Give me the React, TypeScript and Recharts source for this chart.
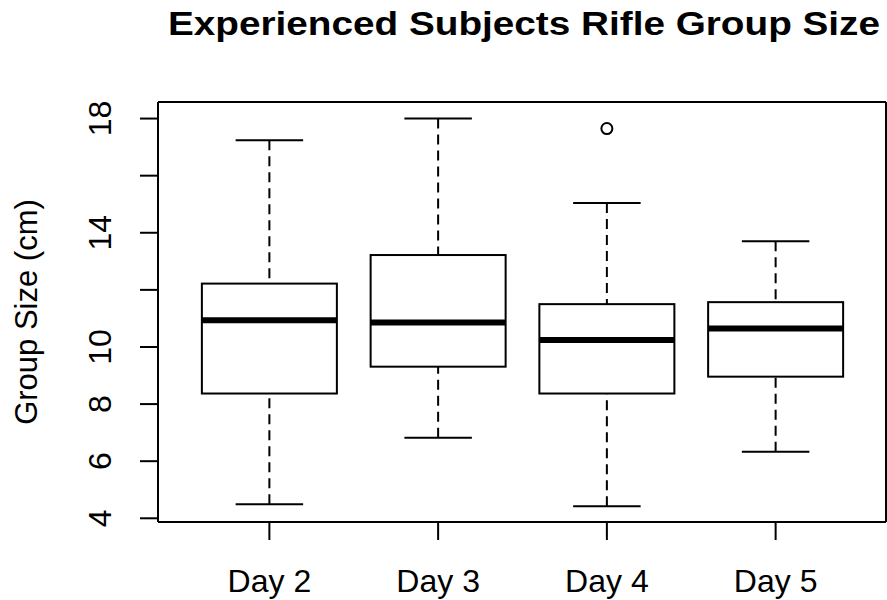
import { ComposedChart, Bar, Line, XAxis, YAxis, CartesianGrid } from "recharts"

const DAYS = ["Day 2", "Day 3", "Day 4", "Day 5"]
const WHISKER_LOW = [4.49, 6.82, 4.42, 6.33]
const Q1 = [8.37, 9.31, 8.37, 8.96]
const MEDIAN = [10.94, 10.86, 10.24, 10.65]
const Q3 = [12.22, 13.22, 11.5, 11.57]
const WHISKER_HIGH = [17.24, 18.0, 15.04, 13.7]
// one outlier, on Day 4
const OUTLIERS = [null, null, 17.65, null]

const Y_TICKS = [4, 6, 8, 10, 12, 14, 16, 18]
// R drops the 12 and 16 labels because they would overlap
const Y_LABELS = ["4", "6", "8", "10", "", "14", "", "18"]

const FONT = "'Liberation Sans', Arial, sans-serif"

const boxData = DAYS.map((day, i) => ({
  day,
  range: [WHISKER_LOW[i], WHISKER_HIGH[i]],
  lo: WHISKER_LOW[i],
  q1: Q1[i],
  med: MEDIAN[i],
  q3: Q3[i],
  hi: WHISKER_HIGH[i],
  outlier: OUTLIERS[i],
}))

function BoxShape(props: any) {
  const { x, y, width, height, payload } = props
  const { lo, hi, q1, med, q3 } = payload
  const py = (v: number) => y + ((hi - v) / (hi - lo)) * height
  const cx = x + width / 2
  const cap = width / 4
  // whiskers run from the caps towards the box, like R's bxp
  return (
    <g stroke="#000" fill="none">
      <line x1={cx} x2={cx} y1={py(hi)} y2={py(q3)} strokeWidth={2} strokeDasharray="10 6" />
      <line x1={cx} x2={cx} y1={py(lo)} y2={py(q1)} strokeWidth={2} strokeDasharray="10 6" />
      <line x1={cx - cap} x2={cx + cap} y1={py(hi)} y2={py(hi)} strokeWidth={2} />
      <line x1={cx - cap} x2={cx + cap} y1={py(lo)} y2={py(lo)} strokeWidth={2} />
      <rect x={x} y={py(q3)} width={width} height={py(q1) - py(q3)} strokeWidth={2} fill="#fff" />
      <line x1={x} x2={x + width} y1={py(med)} y2={py(med)} strokeWidth={6} />
    </g>
  )
}

function OutlierDot(props: any) {
  const { cx, cy, payload, index } = props
  if (payload.outlier == null || cy == null) return <g key={index} />
  return <circle key={index} cx={cx} cy={cy} r={5.5} fill="none" stroke="#000" strokeWidth={2} />
}

function YTick(props: any) {
  const { x, y, payload } = props
  const label = Y_LABELS[Y_TICKS.indexOf(payload.value)]
  if (!label) return <g />
  return (
    <text
      x={x}
      y={y}
      transform={`rotate(-90, ${x}, ${y})`}
      textAnchor="middle"
      fontSize={32}
      fontFamily={FONT}
      fill="#000"
    >
      {label}
    </text>
  )
}

function XTick(props: any) {
  const { x, y, payload } = props
  return (
    <text x={x} y={y + 52} textAnchor="middle" fontSize={32} fontFamily={FONT} fill="#000">
      {payload.value}
    </text>
  )
}

function YTitle(props: any) {
  const { viewBox } = props
  const cx = viewBox.x + 37
  const cy = viewBox.y + viewBox.height / 2
  return (
    <text
      x={cx}
      y={cy}
      transform={`rotate(-90, ${cx}, ${cy})`}
      textAnchor="middle"
      fontSize={31}
      fontFamily={FONT}
      fill="#000"
    >
      Group Size (cm)
    </text>
  )
}

const axisLine = { stroke: "#000", strokeWidth: 2 }

// frame around the plot area, taken from the chart's own offset
const frameRows = ({ offset }: any) => [offset.top, offset.top + offset.height]
const frameCols = ({ offset }: any) => [offset.left, offset.left + offset.width]

export default function App() {
  return (
    <div style={{ position: "relative", width: 887, height: 600, background: "#fff" }}>
      <style>{"body{margin:0;background:#fff}"}</style>
      <ComposedChart
        width={887}
        height={600}
        data={boxData}
        margin={{ top: 102, right: 1, bottom: 0, left: 0 }}
        barCategoryGap="10%"
      >
        <CartesianGrid
          stroke="#000"
          strokeWidth={2}
          horizontalCoordinatesGenerator={frameRows}
          verticalCoordinatesGenerator={frameCols}
        />
        <XAxis
          dataKey="day"
          height={78}
          padding={{ left: 27, right: 26 }}
          axisLine={axisLine}
          tickLine={axisLine}
          tickSize={18}
          tickMargin={0}
          tick={<XTick />}
          interval={0}
        />
        <YAxis
          type="number"
          domain={[3.87, 18.58]}
          ticks={Y_TICKS}
          width={158}
          axisLine={axisLine}
          tickLine={axisLine}
          tickSize={18}
          tickMargin={29}
          tick={<YTick />}
          interval={0}
          allowDataOverflow
          label={<YTitle />}
        />
        <Bar dataKey="range" shape={<BoxShape />} isAnimationActive={false} />
        <Line
          dataKey="outlier"
          stroke="none"
          dot={OutlierDot}
          activeDot={false}
          connectNulls={false}
          isAnimationActive={false}
        />
      </ComposedChart>
      <svg
        width={887}
        height={60}
        style={{ position: "absolute", left: 0, top: 0, pointerEvents: "none" }}
      >
        <text
          x={524}
          y={35}
          textAnchor="middle"
          fontSize={34}
          fontWeight="bold"
          fontFamily={FONT}
          fill="#000"
          textLength={712}
          lengthAdjust="spacingAndGlyphs"
        >
          Experienced Subjects Rifle Group Size
        </text>
      </svg>
    </div>
  )
}
